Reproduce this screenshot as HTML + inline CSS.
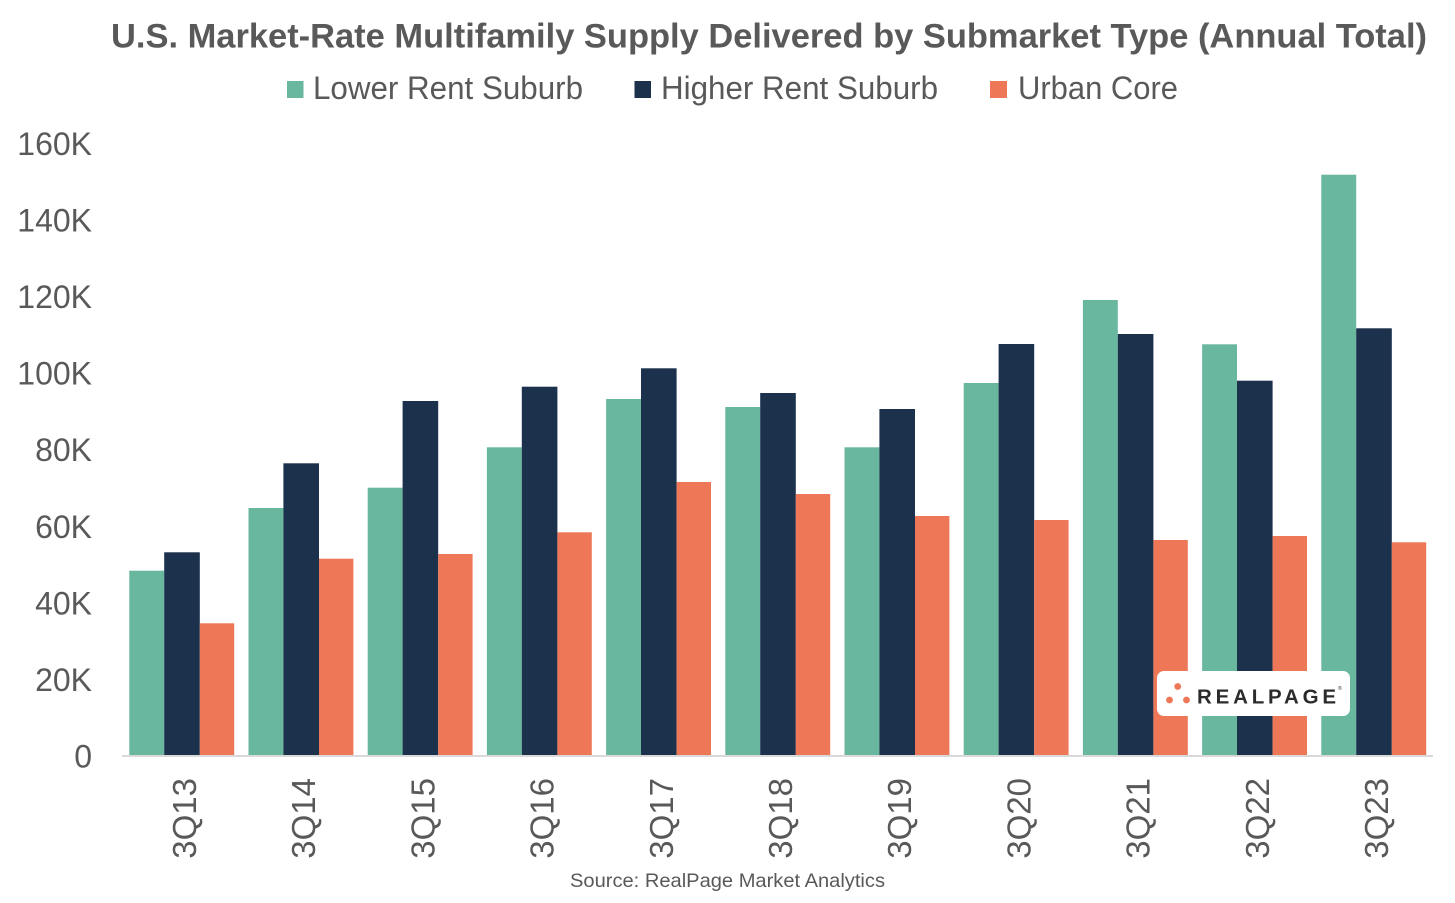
<!DOCTYPE html>
<html>
<head>
<meta charset="utf-8">
<style>
html,body{margin:0;padding:0;background:#fff;}
svg{display:block;}
text{font-family:"Liberation Sans","DejaVu Sans",sans-serif;fill:#595959;}
</style>
</head>
<body>
<svg id="c" width="1455" height="903" viewBox="0 0 1455 903" xmlns="http://www.w3.org/2000/svg">
<rect x="0" y="0" width="1455" height="903" fill="#fff"/>
<text x="111" y="47.5" font-size="34" font-weight="bold" textLength="1316" lengthAdjust="spacingAndGlyphs">U.S. Market-Rate Multifamily Supply Delivered by Submarket Type (Annual Total)</text>
<rect x="287" y="81" width="16.5" height="17" fill="#69B79E"/>
<text x="313" y="99" font-size="32" textLength="270" lengthAdjust="spacingAndGlyphs">Lower Rent Suburb</text>
<rect x="634.5" y="81" width="16.5" height="17" fill="#1C314C"/>
<text x="661" y="99" font-size="32" textLength="277" lengthAdjust="spacingAndGlyphs">Higher Rent Suburb</text>
<rect x="990" y="81" width="17" height="17" fill="#ED7756"/>
<text x="1018" y="99" font-size="32" textLength="160" lengthAdjust="spacingAndGlyphs">Urban Core</text>
<g font-size="32" text-anchor="end">
<text x="92" y="767.5">0</text>
<text x="92" y="691">20K</text>
<text x="92" y="614.5">40K</text>
<text x="92" y="538">60K</text>
<text x="92" y="461">80K</text>
<text x="92" y="384.5">100K</text>
<text x="92" y="308">120K</text>
<text x="92" y="231.5">140K</text>
<text x="92" y="155">160K</text>
</g>
<g id="bars"></g>
<line x1="122" y1="756" x2="1433" y2="756" stroke="#D9D9D9" stroke-width="2"/>
<g id="xl" font-size="33" text-anchor="end"></g>
<rect x="1157" y="671" width="193" height="45" rx="7" ry="7" fill="#fff"/>
<circle cx="1177.7" cy="686.5" r="3.4" fill="#ED7756"/>
<circle cx="1169.5" cy="700" r="3.4" fill="#ED7756"/>
<circle cx="1186.5" cy="700" r="3.4" fill="#ED7756"/>
<text x="1197" y="703.5" font-size="20.5" font-weight="bold" style="fill:#2B2B2B" textLength="139" lengthAdjust="spacing">REALPAGE</text>
<text x="1338" y="690" font-size="5" style="fill:#2B2B2B">®</text>
<text x="570" y="887" font-size="19.5" textLength="315" lengthAdjust="spacingAndGlyphs">Source: RealPage Market Analytics</text>
</svg>
<script>
(function(){
var NS="http://www.w3.org/2000/svg";
var tops=[[570.7,552.3,623.3],[508,463.3,558.7],[487.7,401,554],[447.3,386.7,532.3],[399,368.3,482],[407,393,494],[447.3,409,516],[383,344,520],[300,334,540],[344.3,380.7,536],[174.7,328.3,542.3]];
var labels=["3Q13","3Q14","3Q15","3Q16","3Q17","3Q18","3Q19","3Q20","3Q21","3Q22","3Q23"];
var cols=["#69B79E","#1C314C","#ED7756"];
var offs=[0,34.9,70.5];
var wids=[34.9,35.6,34.4];
var bars=document.getElementById("bars");
var xl=document.getElementById("xl");
for(var i=0;i<11;i++){
var g=129.3+i*119.2;
for(var k=0;k<3;k++){
var r=document.createElementNS(NS,"rect");
r.setAttribute("x",(g+offs[k]).toFixed(1));
r.setAttribute("y",tops[i][k]);
r.setAttribute("width",wids[k]);
r.setAttribute("height",(756-tops[i][k]).toFixed(1));
r.setAttribute("fill",cols[k]);
bars.appendChild(r);
}
var t=document.createElementNS(NS,"text");
t.setAttribute("transform","translate("+(g+66.7).toFixed(1)+",778) rotate(-90)");
t.textContent=labels[i];
xl.appendChild(t);
}
})();
</script>
</body>
</html>
